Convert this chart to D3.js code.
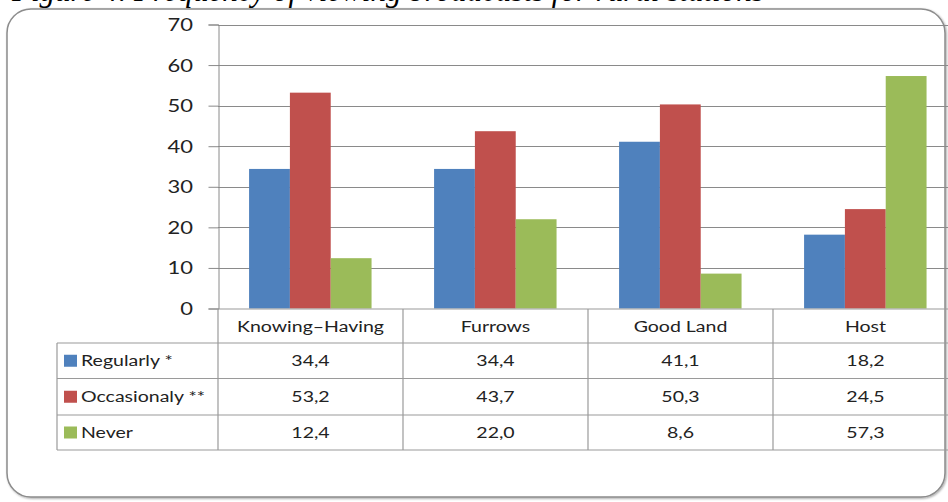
<!DOCTYPE html>
<html>
<head>
<meta charset="utf-8">
<script src="https://cdn.jsdelivr.net/npm/d3@7"></script>
<style>
  body { margin: 0; background: #fff; }
  svg { display: block; }
</style>
</head>
<body>
<svg id="canvas" width="948" height="502"></svg>
<script>
const categories = ["Knowing–Having", "Furrows", "Good Land", "Host"];
const seriesNames = ["Regularly *", "Occasionaly **", "Never"];
const regularly = [34.4, 34.4, 41.1, 18.2];
const occasionaly = [53.2, 43.7, 50.3, 24.5];
const never = [12.4, 22.0, 8.6, 57.3];
const yTicks = [0, 10, 20, 30, 40, 50, 60, 70];
const colors = ["#4f81bd", "#c0504d", "#9bbb59"];
const title = "Figure 4. Frequency of viewing broadcasts for rural stations";

const series = [regularly, occasionaly, never];
const font = "Lato, 'Open Sans', sans-serif";
const stretch = 1.22; // the source picture is a bit wider than tall

const svg = d3.select("#canvas");

// caption above the frame, mostly cropped away like the source
svg.append("text")
  .attr("x", 12)
  .attr("y", 1)
  .attr("font-family", "'Liberation Serif', serif")
  .attr("font-style", "italic")
  .attr("font-size", 31)
  .attr("fill", "#000")
  .text(title);

// frame with soft shadow
const defs = svg.append("defs");
const f = defs.append("filter").attr("id", "sh").attr("x", "-5%").attr("y", "-5%").attr("width", "110%").attr("height", "110%");
f.append("feDropShadow").attr("dx", 1).attr("dy", 1).attr("stdDeviation", 1.2).attr("flood-color", "#000").attr("flood-opacity", 0.35);

svg.append("rect")
  .attr("x", 7).attr("y", 9)
  .attr("width", 938).attr("height", 488)
  .attr("rx", 24).attr("ry", 24)
  .attr("fill", "#fff")
  .attr("stroke", "#8c8c8c")
  .attr("stroke-width", 1.5)
  .attr("filter", "url(#sh)");

const plotLeft = 218, colW = 185;
const plotRight = plotLeft + colW * categories.length;

const x = d3.scaleBand()
  .domain(categories)
  .range([plotLeft, plotRight]);

const xs = d3.scaleBand()
  .domain(d3.range(series.length))
  .range([x.bandwidth() * 0.168, x.bandwidth() * 0.83]);

const y = d3.scaleLinear()
  .domain([0, 70])
  .range([308.5, 24.5]);

// helper: stretched text
function label(g, tx, ty, str, size, anchor) {
  return g.append("text")
    .attr("transform", `translate(${tx},${ty}) scale(${stretch},1)`)
    .attr("text-anchor", anchor || "start")
    .attr("font-family", font)
    .attr("font-size", size)
    .attr("fill", "#222")
    .text(str);
}

// gridlines
svg.append("g")
  .selectAll("line")
  .data(yTicks.slice(1))
  .join("line")
  .attr("x1", plotLeft).attr("x2", plotRight)
  .attr("y1", d => Math.round(y(d)) + 0.5).attr("y2", d => Math.round(y(d)) + 0.5)
  .attr("stroke", "#8a8a8a");

// y axis
const yAxis = svg.append("g")
  .attr("transform", `translate(${plotLeft + 0.5},0)`)
  .call(d3.axisLeft(y).tickValues(yTicks).tickSize(10).tickFormat(""));
yAxis.select(".domain").attr("stroke", "#8a8a8a");
yAxis.selectAll(".tick line").attr("stroke", "#8a8a8a");
const tickLabels = svg.append("g");
yTicks.forEach(t => label(tickLabels, 193, y(t) + 6.5, t, 18, "end"));

// bars
series.forEach((vals, si) => {
  svg.append("g")
    .selectAll("rect")
    .data(vals)
    .join("rect")
    .attr("x", (d, i) => x(categories[i]) + xs(si))
    .attr("width", xs.bandwidth())
    .attr("y", d => y(d))
    .attr("height", d => y(0) - y(d))
    .attr("fill", colors[si]);
});

// data table
const rowTop = 309, rowH = [34, 35.5, 36.5, 35];
const rowY = [rowTop];
rowH.forEach(h => rowY.push(rowY[rowY.length - 1] + h));
const tableLeft = 57;
const grid = svg.append("g").attr("stroke", "#9a9a9a").attr("stroke-width", 1.2);

grid.append("line").attr("x1", plotLeft).attr("x2", plotRight).attr("y1", rowY[0]).attr("y2", rowY[0]);
rowY.slice(1).forEach(yy => {
  grid.append("line").attr("x1", tableLeft).attr("x2", plotRight).attr("y1", yy).attr("y2", yy);
});
grid.append("line").attr("x1", tableLeft).attr("x2", tableLeft).attr("y1", rowY[1]).attr("y2", rowY[4]);
categories.forEach(c => {
  grid.append("line").attr("x1", x(c)).attr("x2", x(c)).attr("y1", rowY[0]).attr("y2", rowY[4]);
});

// header labels
const head = svg.append("g");
categories.forEach(c => {
  label(head, x(c) + x.bandwidth() / 2, (rowY[0] + rowY[1]) / 2 + 5.5, c, 16, "middle");
});

// rows
const fmt = v => v.toFixed(1).replace(".", ",");
series.forEach((vals, si) => {
  const cy = (rowY[si + 1] + rowY[si + 2]) / 2;
  svg.append("rect")
    .attr("x", 64).attr("y", cy - 6)
    .attr("width", 13).attr("height", 12)
    .attr("fill", colors[si]);
  const row = svg.append("g");
  label(row, 81, cy + 5.5, seriesNames[si], 16);
  vals.forEach((v, i) => {
    label(row, x(categories[i]) + x.bandwidth() / 2, cy + 5.5, fmt(v), 16, "middle");
  });
});
</script>
</body>
</html>
